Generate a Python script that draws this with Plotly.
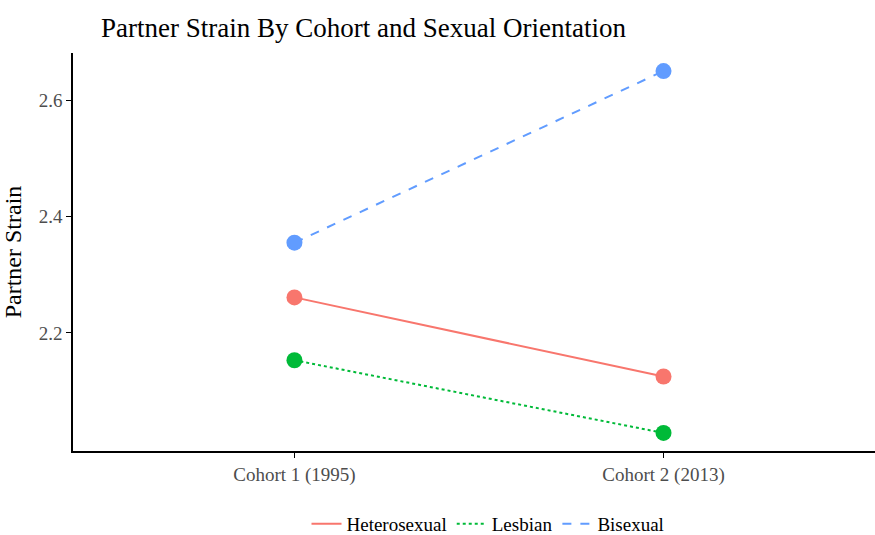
import plotly.graph_objects as go

cohorts = ["Cohort 1 (1995)", "Cohort 2 (2013)"]
series_names = ["Heterosexual", "Lesbian", "Bisexual"]
heterosexual = [2.261, 2.125]
lesbian = [2.153, 2.028]
bisexual = [2.355, 2.650]
y_ticks = [2.2, 2.4, 2.6]

colors = ["#F8766D", "#00BA38", "#619CFF"]
dashes = ["solid", "dot", "dash"]
values = [heterosexual, lesbian, bisexual]

fig = go.Figure()
for name, vals, col, dsh in zip(series_names, values, colors, dashes):
    fig.add_trace(go.Scatter(x=cohorts, y=vals, mode="lines", name=name,
                             line=dict(color=col, width=2, dash=dsh)))
for name, vals, col in zip(series_names, values, colors):
    fig.add_trace(go.Scatter(x=cohorts, y=vals, mode="markers", name=name,
                             showlegend=False,
                             marker=dict(color=col, size=16, line=dict(width=0))))

serif = "Liberation Serif, Times New Roman, serif"
fig.update_layout(
    width=875, height=535,
    margin=dict(l=73, r=0, t=53, b=84),
    paper_bgcolor="white", plot_bgcolor="white",
    font=dict(family=serif, color="black"),
    title=dict(text="Partner Strain By Cohort and Sexual Orientation",
               x=101/875, xanchor="left", xref="container",
               y=1 - 28/535, yanchor="middle", yref="container",
               font=dict(size=27, family=serif, color="black")),
    xaxis=dict(type="category", range=[-0.6, 1.573], showgrid=False,
               showline=True, linecolor="black", linewidth=1.5,
               ticks="outside", ticklen=5, tickcolor="black", tickwidth=1.2,
               tickfont=dict(size=19, color="#4D4D4D", family=serif),
               zeroline=False, automargin=False),
    yaxis=dict(range=[1.997, 2.681], tickvals=y_ticks,
               ticktext=[f"{v:.1f}" for v in y_ticks], showgrid=False,
               showline=True, linecolor="black", linewidth=1.5,
               ticks="outside", ticklen=5, tickcolor="black", tickwidth=1.2,
               tickfont=dict(size=19, color="#4D4D4D", family=serif),
               title=dict(text="Partner Strain", font=dict(size=24, family=serif, color="black"),
                          standoff=11),
               zeroline=False, automargin=False),
    legend=dict(orientation="h", x=488/875, xanchor="center", xref="container",
                y=(535-524)/535, yanchor="middle", yref="container",
                font=dict(size=19, family=serif, color="black"),
                itemwidth=30,
                bgcolor="rgba(0,0,0,0)"),
    showlegend=True,
)

fig.write_html("out.html", config={"displayModeBar": False},
               post_script="document.body.style.margin='0';")
